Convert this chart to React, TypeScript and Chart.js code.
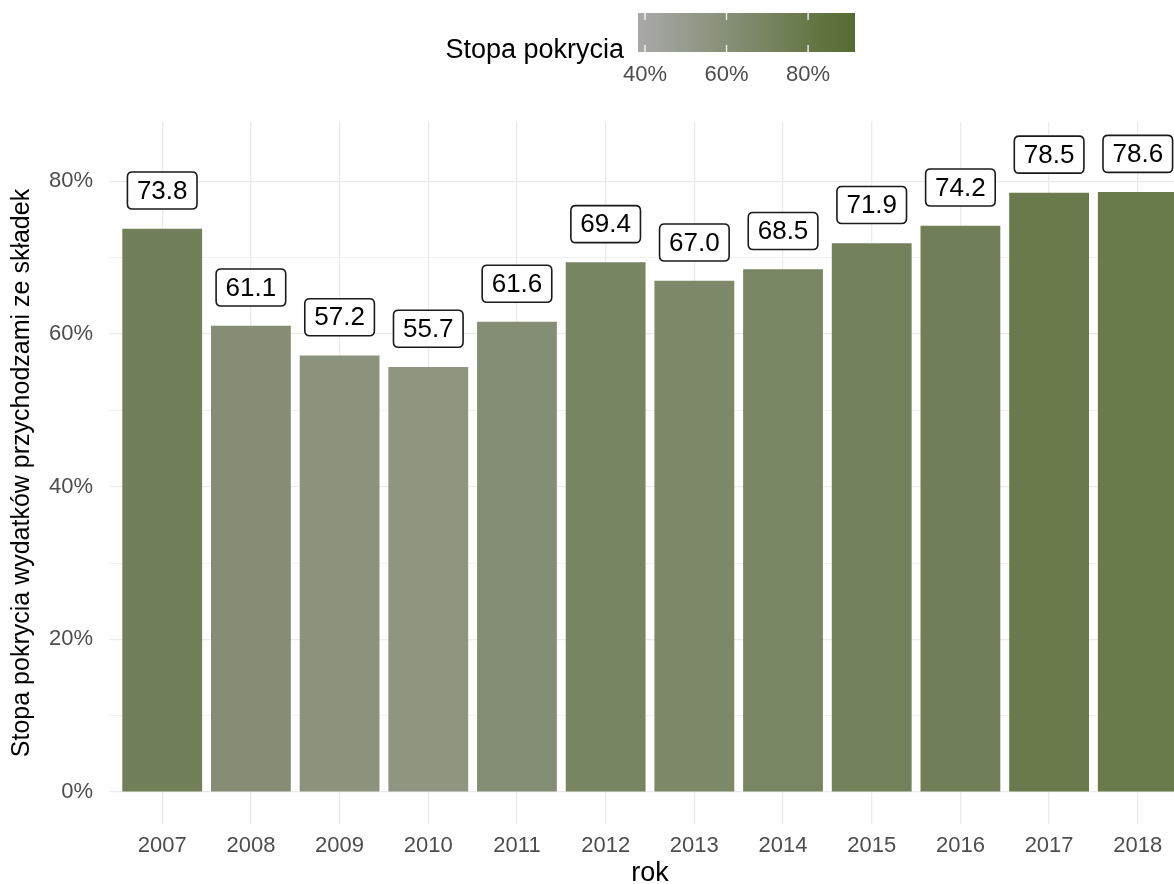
import React, { useEffect, useRef } from "react";
import { Chart, registerables } from "chart.js";

Chart.register(...registerables);

// ---- data ----
const years = ["2007", "2008", "2009", "2010", "2011", "2012", "2013", "2014", "2015", "2016", "2017", "2018"];
const coverage = [73.8, 61.1, 57.2, 55.7, 61.6, 69.4, 67.0, 68.5, 71.9, 74.2, 78.5, 78.6];
const yTickValues = [0, 10, 20, 30, 40, 50, 60, 70, 80];
const legendTicks = [40, 60, 80];
const colorLimits = [38.3, 91.5];
const yLimits = [-4.18, 87.78];
const labelOffset = 5;

const xTitle = "rok";
const yTitle = "Stopa pokrycia wydatków przychodzami ze składek";
const legendTitle = "Stopa pokrycia";

// ---- style ----
const FONT = '"Liberation Sans", Arial, sans-serif';
const LOW = [169, 169, 169];
const HIGH = [85, 107, 47];

function colorFor(v: number): string {
  let t = (v - colorLimits[0]) / (colorLimits[1] - colorLimits[0]);
  t = Math.max(0, Math.min(1, t));
  const c = LOW.map((l, i) => Math.round(l + (HIGH[i] - l) * t));
  return `rgb(${c[0]},${c[1]},${c[2]})`;
}

function roundRect(ctx: CanvasRenderingContext2D, x: number, y: number, w: number, h: number, r: number) {
  ctx.beginPath();
  ctx.moveTo(x + r, y);
  ctx.lineTo(x + w - r, y);
  ctx.quadraticCurveTo(x + w, y, x + w, y + r);
  ctx.lineTo(x + w, y + h - r);
  ctx.quadraticCurveTo(x + w, y + h, x + w - r, y + h);
  ctx.lineTo(x + r, y + h);
  ctx.quadraticCurveTo(x, y + h, x, y + h - r);
  ctx.lineTo(x, y + r);
  ctx.quadraticCurveTo(x, y, x + r, y);
  ctx.closePath();
}

const labelPlugin = {
  id: "valueLabels",
  afterDatasetsDraw(chart: any) {
    const ctx: CanvasRenderingContext2D = chart.ctx;
    const yScale = chart.scales.y;
    const meta = chart.getDatasetMeta(0);
    ctx.save();
    ctx.font = `26px ${FONT}`;
    ctx.textAlign = "center";
    ctx.textBaseline = "middle";
    meta.data.forEach((bar: any, i: number) => {
      const v = coverage[i];
      const text = v.toFixed(1);
      const cx = bar.x;
      const cy = yScale.getPixelForValue(v + labelOffset);
      const w = ctx.measureText(text).width + 19;
      const h = 37;
      roundRect(ctx, cx - w / 2, cy - h / 2, w, h, 5);
      ctx.fillStyle = "#ffffff";
      ctx.fill();
      ctx.lineWidth = 1.6;
      ctx.strokeStyle = "#1a1a1a";
      ctx.stroke();
      ctx.fillStyle = "#000000";
      ctx.fillText(text, cx, cy + 1);
    });
    ctx.restore();
  },
};

const legendPlugin = {
  id: "colorbarLegend",
  afterDraw(chart: any) {
    const ctx: CanvasRenderingContext2D = chart.ctx;
    const x0 = 638, x1 = 855, y0 = 13, y1 = 52;
    ctx.save();
    const g = ctx.createLinearGradient(x0, 0, x1, 0);
    for (let k = 0; k <= 10; k++) {
      const v = colorLimits[0] + (colorLimits[1] - colorLimits[0]) * (k / 10);
      g.addColorStop(k / 10, colorFor(v));
    }
    ctx.fillStyle = g;
    ctx.fillRect(x0, y0, x1 - x0, y1 - y0);
    ctx.strokeStyle = "#ffffff";
    ctx.lineWidth = 1.3;
    ctx.font = `22px ${FONT}`;
    ctx.textAlign = "center";
    ctx.textBaseline = "middle";
    legendTicks.forEach((t) => {
      const x = x0 + ((t - colorLimits[0]) / (colorLimits[1] - colorLimits[0])) * (x1 - x0);
      ctx.beginPath();
      ctx.moveTo(x, y0);
      ctx.lineTo(x, y0 + 7);
      ctx.moveTo(x, y1 - 7);
      ctx.lineTo(x, y1);
      ctx.stroke();
      ctx.fillStyle = "#4d4d4d";
      ctx.fillText(`${t}%`, x, 75);
    });
    ctx.fillStyle = "#000000";
    ctx.font = `27px ${FONT}`;
    ctx.textAlign = "right";
    ctx.fillText(legendTitle, 624, 51);
    ctx.restore();
  },
};

export default function App() {
  const canvasRef = useRef<HTMLCanvasElement | null>(null);

  useEffect(() => {
    if (!canvasRef.current) return;
    const chart = new Chart(canvasRef.current, {
      type: "bar",
      data: {
        datasets: [
          {
            data: coverage.map((v, i) => ({ x: i, y: v })),
            backgroundColor: coverage.map(colorFor),
            borderWidth: 0,
            barPercentage: 0.9,
            categoryPercentage: 1.0,
          },
        ],
      },
      options: {
        responsive: false,
        animation: false,
        devicePixelRatio: 1,
        layout: { padding: { top: 122, right: 9, left: 0, bottom: 0 } },
        plugins: { legend: { display: false }, tooltip: { enabled: false } },
        scales: {
          x: {
            type: "linear",
            min: -0.6,
            max: years.length - 0.4,
            offset: false,
            afterBuildTicks: (scale: any) => {
              scale.ticks = years.map((_, i) => ({ value: i }));
            },
            afterFit: (scale: any) => {
              scale.height = 60;
            },
            grid: { color: "#ebebeb", lineWidth: 1.3, drawTicks: false, offset: false },
            border: { display: false },
            ticks: {
              autoSkip: false,
              maxRotation: 0,
              padding: 9,
              color: "#4d4d4d",
              font: { family: FONT, size: 22 },
              callback: (v: any) => years[Math.round(Number(v))] ?? "",
            },
            title: {
              display: true,
              text: xTitle,
              color: "#000000",
              font: { family: FONT, size: 27, lineHeight: 0.8 },
              padding: 0,
            },
          },
          y: {
            type: "linear",
            min: yLimits[0],
            max: yLimits[1],
            afterBuildTicks: (scale: any) => {
              scale.ticks = yTickValues.map((v) => ({ value: v }));
            },
            afterFit: (scale: any) => {
              scale.width = 109;
            },
            grid: {
              color: "#ebebeb",
              lineWidth: (c: any) => (c.tick && c.tick.value % 20 === 0 ? 1.3 : 0.7),
              drawTicks: false,
            },
            border: { display: false },
            ticks: {
              padding: 16,
              color: "#4d4d4d",
              font: { family: FONT, size: 22 },
              callback: (v: any) => (Number(v) % 20 === 0 ? `${v}%` : ""),
            },
            title: {
              display: true,
              text: yTitle,
              color: "#000000",
              font: { family: FONT, size: 25 },
              padding: { top: 7, bottom: 0 },
            },
          },
        },
      },
      plugins: [labelPlugin, legendPlugin],
    });
    return () => chart.destroy();
  }, []);

  return (
    <div style={{ position: "absolute", left: 0, top: 0, width: 1174, height: 884, overflow: "hidden", background: "#ffffff" }}>
      <canvas ref={canvasRef} width={1200} height={884} style={{ width: 1200, height: 884, display: "block" }} />
    </div>
  );
}
